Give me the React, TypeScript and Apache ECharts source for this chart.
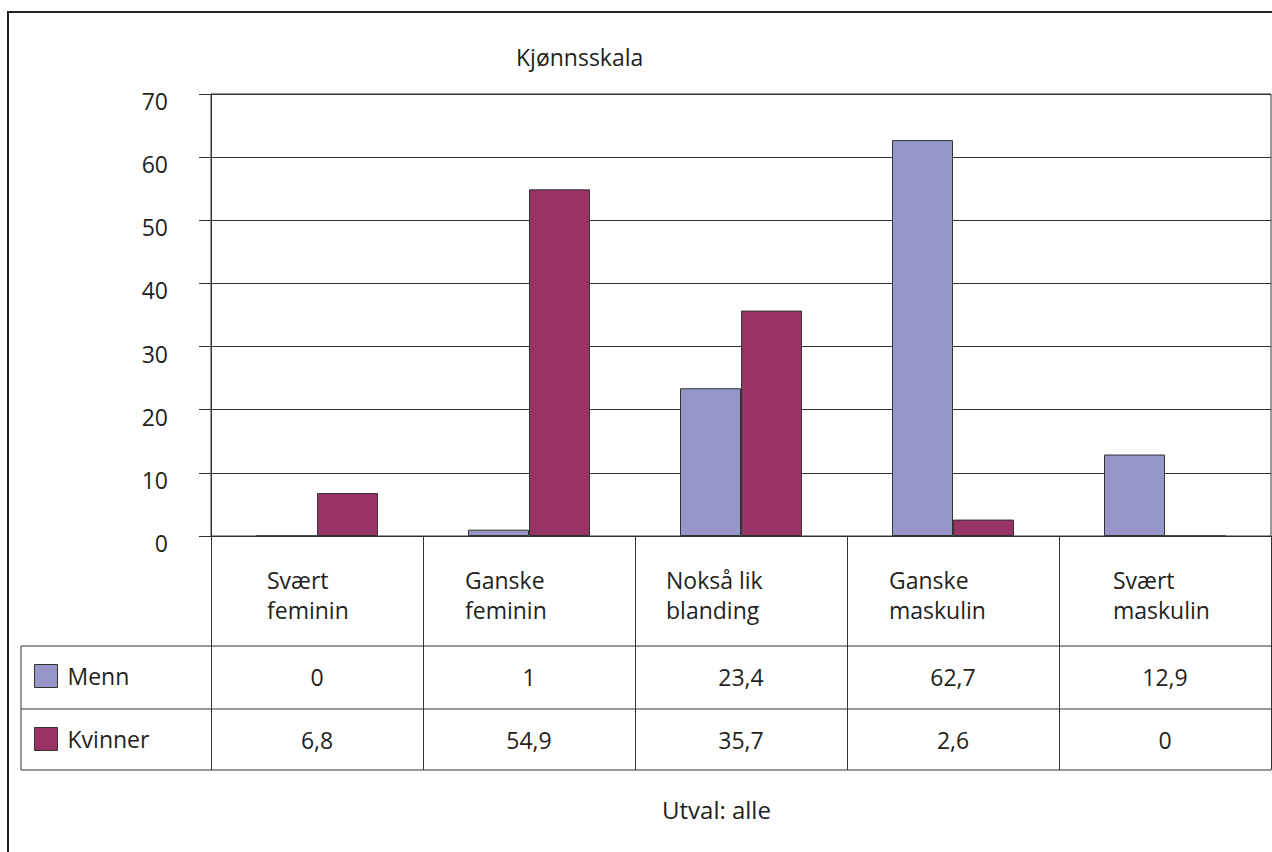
import React, { useEffect, useRef } from "react";
import * as echarts from "echarts";

const categories = ["Svært feminin", "Ganske feminin", "Nokså lik blanding", "Ganske maskulin", "Svært maskulin"];
const categoryLines = [["Svært", "feminin"], ["Ganske", "feminin"], ["Nokså lik", "blanding"], ["Ganske", "maskulin"], ["Svært", "maskulin"]];
const menn = [0, 1, 23.4, 62.7, 12.9];
const kvinner = [6.8, 54.9, 35.7, 2.6, 0];
const seriesNames = ["Menn", "Kvinner"];
const yTicks = [0, 10, 20, 30, 40, 50, 60, 70];

const fmt = (v: number) => String(v).replace(".", ",");
const FONT = "'Open Sans', sans-serif";
const TXT = "#231f20";
const LINE = "#333";

export default function App() {
  const ref = useRef<HTMLDivElement>(null);
  useEffect(() => {
    document.body.style.margin = "0";
    const chart = echarts.init(ref.current!, null, { renderer: "svg" });
    const blockWidths = [100, 128, 150, 128, 104];
    const rich: any = {};
    blockWidths.forEach((w, i) => {
      rich["c" + i] = { width: w, align: "left", fontSize: 23, lineHeight: 30, color: TXT, fontFamily: FONT };
    });
    const gridLeft = 211, gridTop = 94, gridBottomY = 536, gridRight = 1271;
    chart.setOption({
      animation: false,
      title: [
        { text: "Kjønnsskala", left: 511, top: 40, textStyle: { fontSize: 23, fontWeight: "normal", color: TXT, fontFamily: FONT } },
        { text: "Utval: alle", left: 657, top: 792, textStyle: { fontSize: 24, fontWeight: "normal", color: TXT, fontFamily: FONT } },
      ],
      legend: {
        data: seriesNames,
        orient: "vertical",
        left: 29,
        top: 659,
        itemWidth: 23,
        itemHeight: 23,
        itemGap: 39,
        icon: "rect",
        itemStyle: { borderColor: LINE, borderWidth: 1 },
        textStyle: { fontSize: 23, color: TXT, fontFamily: FONT, padding: [0, 0, 0, 5] },
      },
      grid: {
        left: gridLeft,
        top: gridTop,
        right: 1272 - gridRight,
        bottom: 852 - gridBottomY,
        show: true,
        borderColor: LINE,
        borderWidth: 1,
        backgroundColor: "transparent",
      },
      xAxis: [
        {
          type: "category",
          data: categories,
          boundaryGap: true,
          axisLine: { show: true, lineStyle: { color: LINE, width: 1 } },
          axisTick: { show: true, length: 234, lineStyle: { color: LINE, width: 1 } },
          axisLabel: {
            interval: 0,
            margin: 29,
            verticalAlign: "top",
            align: "center",
            formatter: (_v: string, i: number) => categoryLines[i].map((l) => `{c${i}|${l}}`).join("\n"),
            rich,
          },
        },
        {
          type: "category",
          data: menn.map(fmt),
          position: "bottom",
          axisLine: { show: false },
          axisTick: { show: false },
          axisLabel: { interval: 0, margin: 141, verticalAlign: "middle", fontSize: 23, color: TXT, fontFamily: FONT },
        },
        {
          type: "category",
          data: kvinner.map(fmt),
          position: "bottom",
          axisLine: { show: false },
          axisTick: { show: false },
          axisLabel: { interval: 0, margin: 204, verticalAlign: "middle", fontSize: 23, color: TXT, fontFamily: FONT },
        },
      ],
      yAxis: {
        type: "value",
        min: yTicks[0],
        max: yTicks[yTicks.length - 1],
        interval: 10,
        axisLine: { show: true, lineStyle: { color: LINE, width: 1 } },
        axisTick: { show: true, length: 12, lineStyle: { color: LINE, width: 1 } },
        splitLine: { show: true, lineStyle: { color: LINE, width: 1 } },
        axisLabel: { margin: 43, fontSize: 23, color: TXT, fontFamily: FONT, verticalAlign: "top", lineHeight: 14 },
      },
      series: [
        {
          name: seriesNames[0],
          type: "bar",
          data: menn,
          barWidth: 61,
          barGap: "0%",
          itemStyle: { color: "#9696c8", borderColor: LINE, borderWidth: 1 },
        },
        {
          name: seriesNames[1],
          type: "bar",
          data: kvinner,
          barWidth: 61,
          barGap: "0%",
          itemStyle: { color: "#993366", borderColor: LINE, borderWidth: 1 },
        },
      ],
      graphic: [
        { type: "rect", shape: { x: 8, y: 12, width: 1400, height: 1000 }, style: { fill: "none", stroke: "#231f20", lineWidth: 2 }, silent: true },
        { type: "line", shape: { x1: 21, y1: 646, x2: gridRight, y2: 646 }, style: { stroke: LINE, lineWidth: 1 } },
        { type: "line", shape: { x1: 21, y1: 709, x2: gridRight, y2: 709 }, style: { stroke: LINE, lineWidth: 1 } },
        { type: "line", shape: { x1: 21, y1: 770, x2: gridRight, y2: 770 }, style: { stroke: LINE, lineWidth: 1 } },
        { type: "line", shape: { x1: 21, y1: 646, x2: 21, y2: 770 }, style: { stroke: LINE, lineWidth: 1 } },
      ],
    });
    return () => chart.dispose();
  }, []);
  return <div ref={ref} style={{ width: 1272, height: 852 }} />;
}
